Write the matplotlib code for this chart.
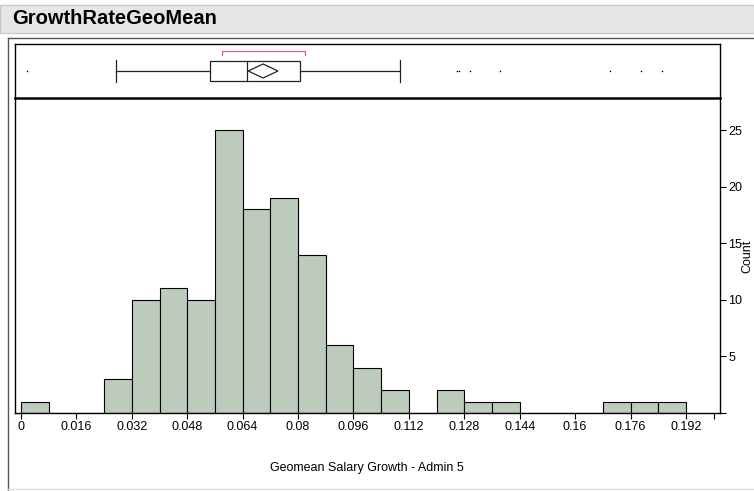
import matplotlib
matplotlib.use("Agg")
import matplotlib.pyplot as plt
from matplotlib.patches import Rectangle, Polygon
from matplotlib.lines import Line2D

# ---------------- data ----------------
bin_lefts = [0.000, 0.008, 0.016, 0.024, 0.032, 0.040, 0.048, 0.056, 0.064, 0.072,
             0.080, 0.088, 0.096, 0.104, 0.112, 0.120, 0.128, 0.136, 0.144, 0.152,
             0.160, 0.168, 0.176, 0.184]
counts = [1, 0, 0, 3, 10, 11, 10, 25, 18, 19,
          14, 6, 4, 2, 0, 2, 1, 1, 0, 0,
          0, 1, 1, 1]
bin_width = 0.008

whisker_lo = 0.0274
q1 = 0.0546
median = 0.0653
q3 = 0.0806
whisker_hi = 0.1094
mean = 0.0699
mean_ci = (0.0656, 0.0742)
shortest_half = (0.0580, 0.0820)
outliers = [0.0017, 0.1259, 0.1266, 0.1296, 0.1383, 0.1700, 0.1790, 0.1850]

x_ticks = [0, 0.016, 0.032, 0.048, 0.064, 0.08, 0.096, 0.112, 0.128, 0.144, 0.16, 0.176, 0.192, 0.2]
x_ticklabels = ["0", "0.016", "0.032", "0.048", "0.064", "0.08", "0.096", "0.112",
                "0.128", "0.144", "0.16", "0.176", "0.192", ""]
y_ticks = [0, 5, 10, 15, 20, 25]
y_ticklabels = ["", "5", "10", "15", "20", "25"]

title = "GrowthRateGeoMean"
xlabel = "Geomean Salary Growth - Admin 5"
ylabel = "Count"

# ---------------- style ----------------
plt.rcParams['font.family'] = ['Liberation Sans', 'DejaVu Sans']
W, H = 754, 491
fig = plt.figure(figsize=(W / 100, H / 100), dpi=100)
fig.patch.set_facecolor("white")

def fx(px):
    return px / W

def fy(py):
    return 1 - py / H

# Title band
fig.add_artist(Rectangle((fx(0), fy(33)), 1, (33 - 5) / H, transform=fig.transFigure,
                         facecolor="#e6e6e6", edgecolor="#c8c8c8", lw=1))
fig.text(fx(12), fy(19), title, fontsize=14.5, fontweight="bold", va="center", ha="left")

# Outer frame
fig.add_artist(Line2D([fx(8), fx(8)], [fy(38), fy(491)], transform=fig.transFigure, color="#555555", lw=1))
fig.add_artist(Line2D([fx(8), 1], [fy(38), fy(38)], transform=fig.transFigure, color="#555555", lw=1))
fig.add_artist(Line2D([fx(8), 1], [fy(489), fy(489)], transform=fig.transFigure, color="#dddddd", lw=1))

xmin = (15 - 21) / 665 * 0.192
xmax = (720 - 21) / 665 * 0.192

# ---------------- histogram ----------------
axh = fig.add_axes([fx(15), fy(413), (720 - 15) / W, (413 - 98) / H])
axh.bar(bin_lefts, counts, width=bin_width, align="edge", color="#bccbbb",
        edgecolor="black", linewidth=0.8)
axh.set_xlim(xmin, xmax)
axh.set_ylim(0, (413 - 98) / 283 * 25)
axh.yaxis.tick_right()
axh.set_yticks(y_ticks)
axh.set_yticklabels(y_ticklabels)
axh.set_xticks(x_ticks)
axh.set_xticklabels(x_ticklabels)
axh.tick_params(axis="both", direction="out", length=4, width=0.8, labelsize=9, pad=2, colors="black")
for s in ["left", "right", "bottom"]:
    axh.spines[s].set_linewidth(1.0)
axh.spines["top"].set_visible(False)

fig.text(fx(367), fy(468), xlabel, fontsize=9, ha="center", va="center")
fig.text(fx(747), fy(256), ylabel, fontsize=9, ha="center", va="center", rotation=90)

# ---------------- box plot ----------------
axb = fig.add_axes([fx(15), fy(98), (720 - 15) / W, (98 - 44) / H])
axb.set_xlim(xmin, xmax)
axb.set_ylim(0, 1)
axb.set_xticks([])
axb.set_yticks([])
for s in axb.spines.values():
    s.set_linewidth(1.0)
axb.spines["bottom"].set_linewidth(1.8)

yc = 0.5
bh = 0.185
lc = "#222222"
axb.plot([whisker_lo, q1], [yc, yc], color=lc, lw=0.9)
axb.plot([q3, whisker_hi], [yc, yc], color=lc, lw=0.9)
axb.plot([whisker_lo, whisker_lo], [yc - 0.2, yc + 0.2], color=lc, lw=0.9)
axb.plot([whisker_hi, whisker_hi], [yc - 0.2, yc + 0.2], color=lc, lw=0.9)
axb.add_patch(Rectangle((q1, yc - bh), q3 - q1, 2 * bh, facecolor="white", edgecolor=lc, lw=0.9))
axb.plot([median, median], [yc - bh, yc + bh], color=lc, lw=0.9)
dh = 0.13
axb.add_patch(Polygon([[mean_ci[0], yc], [mean, yc + dh], [mean_ci[1], yc], [mean, yc - dh]],
                      closed=True, facecolor="white", edgecolor=lc, lw=0.9))
# shortest half bracket
by = 0.87
axb.plot([shortest_half[0], shortest_half[0], shortest_half[1], shortest_half[1]],
         [by - 0.07, by, by, by - 0.07], color="#e0607a", lw=0.9)
# outliers
axb.scatter(outliers, [yc] * len(outliers), s=1.2, color="black", linewidths=0, zorder=3)

fig.savefig("out.png", dpi=100)
